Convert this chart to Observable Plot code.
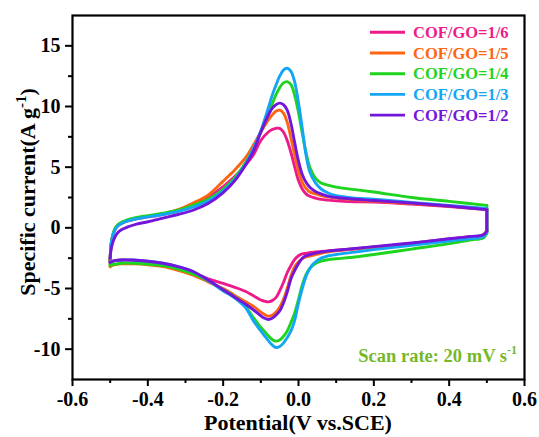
<!DOCTYPE html>
<html>
<head>
<meta charset="utf-8">
<script src="https://cdn.jsdelivr.net/npm/d3@7"></script>
<script src="https://cdn.jsdelivr.net/npm/@observablehq/plot@0.6"></script>
<style>
  html, body { margin: 0; padding: 0; background: #fff; }
</style>
</head>
<body>
<div id="chart"></div>
<script>
// ---------- data ----------
const seriesLabels = ["COF/GO=1/6", "COF/GO=1/5", "COF/GO=1/4", "COF/GO=1/3", "COF/GO=1/2"];
const seriesColors = ["#ee1a8a", "#ff6410", "#1ed41e", "#13a6f5", "#7316dc"];

// anodic (forward) sweep potentials, V vs SCE
const upperV = [-0.5, -0.498, -0.494, -0.488, -0.48, -0.47, -0.455, -0.43, -0.4, -0.36, -0.32, -0.28, -0.24, -0.2, -0.17, -0.14, -0.12, -0.1, -0.08, -0.07, -0.06, -0.05, -0.04, -0.03, -0.02, -0.01, 0, 0.01, 0.02, 0.03, 0.045, 0.06, 0.08, 0.1, 0.15, 0.2, 0.3, 0.4, 0.5];
const upper16 = [-2.55, -1.5, -0.75, -0.2, 0.15, 0.35, 0.55, 0.75, 0.9, 1.1, 1.4, 1.85, 2.5, 3.4, 4.2, 5.2, 6.0, 7.2, 7.9, 8.1, 8.2, 8.2, 7.9, 7.2, 6.2, 5.0, 3.9, 3.2, 2.8, 2.6, 2.45, 2.35, 2.28, 2.22, 2.15, 2.12, 1.95, 1.75, 1.5];
const upper15 = [-2.6, -1.5, -0.7, -0.15, 0.2, 0.4, 0.6, 0.8, 0.95, 1.15, 1.5, 2.05, 2.7, 3.85, 4.75, 5.8, 6.8, 7.9, 8.9, 9.3, 9.6, 9.7, 9.45, 8.7, 7.4, 6.0, 4.7, 3.75, 3.25, 2.95, 2.8, 2.65, 2.55, 2.45, 2.3, 2.2, 2.0, 1.8, 1.55];
const upper14 = [-2.5, -1.5, -0.7, -0.1, 0.25, 0.45, 0.65, 0.85, 1.0, 1.2, 1.45, 1.85, 2.35, 3.2, 4.1, 5.4, 6.5, 7.9, 9.5, 10.2, 10.95, 11.55, 11.95, 12.05, 11.8, 10.9, 9.5, 7.8, 6.2, 5.0, 4.1, 3.7, 3.5, 3.35, 3.15, 2.95, 2.5, 2.18, 1.85];
const upper13 = [-2.5, -1.5, -0.75, -0.2, 0.15, 0.35, 0.55, 0.75, 0.9, 1.1, 1.35, 1.7, 2.2, 3.05, 3.95, 5.3, 6.5, 8.0, 9.9, 10.9, 11.75, 12.5, 13.0, 13.15, 12.9, 12.0, 10.3, 8.2, 6.0, 4.6, 3.7, 3.2, 2.85, 2.65, 2.45, 2.35, 2.1, 1.85, 1.6];
const upper12 = [-2.5, -1.9, -1.3, -0.8, -0.4, -0.15, 0.05, 0.3, 0.5, 0.8, 1.1, 1.45, 2.0, 2.9, 3.85, 5.2, 6.3, 7.9, 9.3, 9.85, 10.15, 10.28, 10.15, 9.7, 8.6, 7.0, 5.5, 4.4, 3.75, 3.35, 3.0, 2.8, 2.6, 2.5, 2.35, 2.25, 2.05, 1.8, 1.5];

// cathodic (reverse) sweep potentials
const lowerV = [0.5, 0.492, 0.48, 0.46, 0.4, 0.3, 0.2, 0.15, 0.1, 0.08, 0.06, 0.04, 0.03, 0.02, 0.01, 0, -0.01, -0.02, -0.03, -0.04, -0.05, -0.06, -0.07, -0.08, -0.09, -0.1, -0.12, -0.14, -0.16, -0.18, -0.2, -0.24, -0.28, -0.32, -0.36, -0.4, -0.44, -0.47, -0.49, -0.5];
const lower16 = [-0.3, -0.55, -0.68, -0.72, -0.92, -1.28, -1.58, -1.72, -1.85, -1.9, -1.95, -2.0, -2.05, -2.1, -2.15, -2.3, -2.6, -3.1, -3.7, -4.5, -5.2, -5.75, -6.0, -6.1, -6.05, -5.95, -5.6, -5.25, -5.0, -4.78, -4.58, -4.2, -3.72, -3.3, -3.0, -2.8, -2.68, -2.65, -2.7, -2.8];
const lower15 = [-0.3, -0.55, -0.7, -0.75, -0.95, -1.3, -1.6, -1.75, -1.9, -1.98, -2.1, -2.25, -2.32, -2.4, -2.55, -2.8, -3.2, -3.95, -5.0, -5.9, -6.55, -6.95, -7.2, -7.28, -7.15, -6.95, -6.45, -6.1, -5.75, -5.35, -5.0, -4.45, -3.9, -3.5, -3.2, -3.05, -2.97, -2.97, -3.05, -3.2];
const lower14 = [-0.45, -0.8, -0.92, -0.98, -1.3, -1.75, -2.2, -2.4, -2.55, -2.62, -2.75, -3.05, -3.35, -3.85, -4.7, -5.9, -7.0, -7.8, -8.5, -8.95, -9.25, -9.34, -9.2, -8.9, -8.55, -8.2, -7.4, -6.5, -5.9, -5.45, -5.1, -4.35, -3.8, -3.4, -3.12, -3.0, -2.92, -2.92, -3.0, -3.1];
const lower13 = [-0.35, -0.7, -0.82, -0.88, -1.08, -1.45, -1.8, -2.0, -2.2, -2.3, -2.5, -2.95, -3.35, -4.0, -5.0, -6.2, -7.6, -8.5, -9.05, -9.5, -9.78, -9.86, -9.65, -9.3, -8.9, -8.5, -7.65, -6.6, -6.0, -5.55, -5.2, -4.35, -3.6, -3.2, -2.92, -2.75, -2.65, -2.65, -2.72, -2.85];
const lower12 = [-0.25, -0.55, -0.65, -0.7, -0.9, -1.25, -1.55, -1.7, -1.85, -1.9, -2.0, -2.12, -2.2, -2.3, -2.5, -2.95, -3.5, -4.2, -5.3, -6.2, -6.85, -7.2, -7.45, -7.55, -7.45, -7.25, -6.75, -6.3, -5.9, -5.5, -5.1, -4.3, -3.6, -3.2, -2.92, -2.75, -2.65, -2.65, -2.72, -2.85];

const upperSets = [upper16, upper15, upper14, upper13, upper12];
const lowerSets = [lower16, lower15, lower14, lower13, lower12];

const xMajor = [-0.6, -0.4, -0.2, 0, 0.2, 0.4, 0.6];
const xMinor = [-0.5, -0.3, -0.1, 0.1, 0.3, 0.5];
const yMajor = [-10, -5, 0, 5, 10, 15];
const yMinor = [-7.5, -2.5, 2.5, 7.5, 12.5];

// ---------- build tables ----------
const branches = [];   // smooth sweeps
const switches = [];   // vertical potential-reversal segments
seriesLabels.forEach((s, k) => {
  const up = upperSets[k], lo = lowerSets[k];
  upperV.forEach((v, j) => branches.push({s, z: s + "-a", v, i: up[j]}));
  lowerV.forEach((v, j) => branches.push({s, z: s + "-c", v, i: lo[j]}));
  const nU = upperV.length - 1, nL = lowerV.length - 1;
  switches.push({s, z: s + "-r", v: upperV[nU], i: up[nU]});
  switches.push({s, z: s + "-r", v: lowerV[0], i: lo[0]});
  switches.push({s, z: s + "-l", v: lowerV[nL], i: lo[nL]});
  switches.push({s, z: s + "-l", v: upperV[0], i: up[0]});
});

const W = 539, H = 437, mT = 15, mR = 15, mB = 58, mL = 72;
const font = "'Liberation Serif', 'Times New Roman', serif";
const lw = 2.9;

const svg = Plot.plot({
  width: W, height: H,
  marginTop: mT, marginRight: mR, marginBottom: mB, marginLeft: mL,
  style: {fontFamily: font, fontWeight: "bold", fontSize: "20px", color: "black", background: "white", overflow: "visible"},
  x: {domain: [-0.6, 0.6]},
  y: {domain: [-12.5, 17.5]},
  color: {domain: seriesLabels, range: seriesColors},
  marks: [
    Plot.line(switches, {x: "v", y: "i", z: "z", stroke: "s", strokeWidth: lw}),
    Plot.line(branches, {x: "v", y: "i", z: "z", stroke: "s", strokeWidth: lw, curve: "catmull-rom"}),
    Plot.axisX({ticks: xMinor, tickSize: 4, strokeWidth: 2, tickFormat: () => "", label: null}),
    Plot.axisX({ticks: xMajor, tickSize: 7, tickPadding: 5, strokeWidth: 2, tickFormat: d => d.toFixed(1), label: null, fontSize: 20}),
    Plot.axisY({ticks: yMinor, tickSize: 4, strokeWidth: 2, tickFormat: () => "", label: null}),
    Plot.axisY({ticks: yMajor, tickSize: 7, tickPadding: 5, strokeWidth: 2, tickFormat: d => String(d), label: null, fontSize: 20}),
    Plot.frame({stroke: "black", strokeWidth: 2.2})
  ]
});

const g = d3.select(svg).append("g").attr("font-family", font).attr("font-weight", "bold");

// legend
seriesLabels.forEach((s, k) => {
  const y = mT + 17.3 + k * 20.7;
  g.append("line").attr("x1", 370).attr("x2", 405).attr("y1", y).attr("y2", y)
    .attr("stroke", seriesColors[k]).attr("stroke-width", lw);
  g.append("text").attr("x", 413).attr("y", y).attr("dy", "0.35em")
    .attr("text-anchor", "start")
    .attr("font-size", 16.5).attr("fill", seriesColors[k]).text(s);
});

// scan-rate note
const note = g.append("text").attr("x", 517).attr("y", 362).attr("text-anchor", "end")
  .attr("font-size", 18.5).attr("fill", "#76b82a");
note.append("tspan").text("Scan rate: 20 mV s");
note.append("tspan").attr("dy", -8).attr("font-size", 12).text("-1");

// axis labels
g.append("text").attr("x", 298).attr("y", 430).attr("text-anchor", "middle")
  .attr("font-size", 22).text("Potential(V vs.SCE)");
const yl = g.append("text").attr("transform", "translate(35,192) rotate(-90)")
  .attr("text-anchor", "middle").attr("font-size", 22);
yl.append("tspan").text("Specific current(A g");
yl.append("tspan").attr("dy", -9).attr("font-size", 15).text("-1");
yl.append("tspan").attr("dy", 9).text(")");

document.getElementById("chart").appendChild(svg);
</script>
</body>
</html>
